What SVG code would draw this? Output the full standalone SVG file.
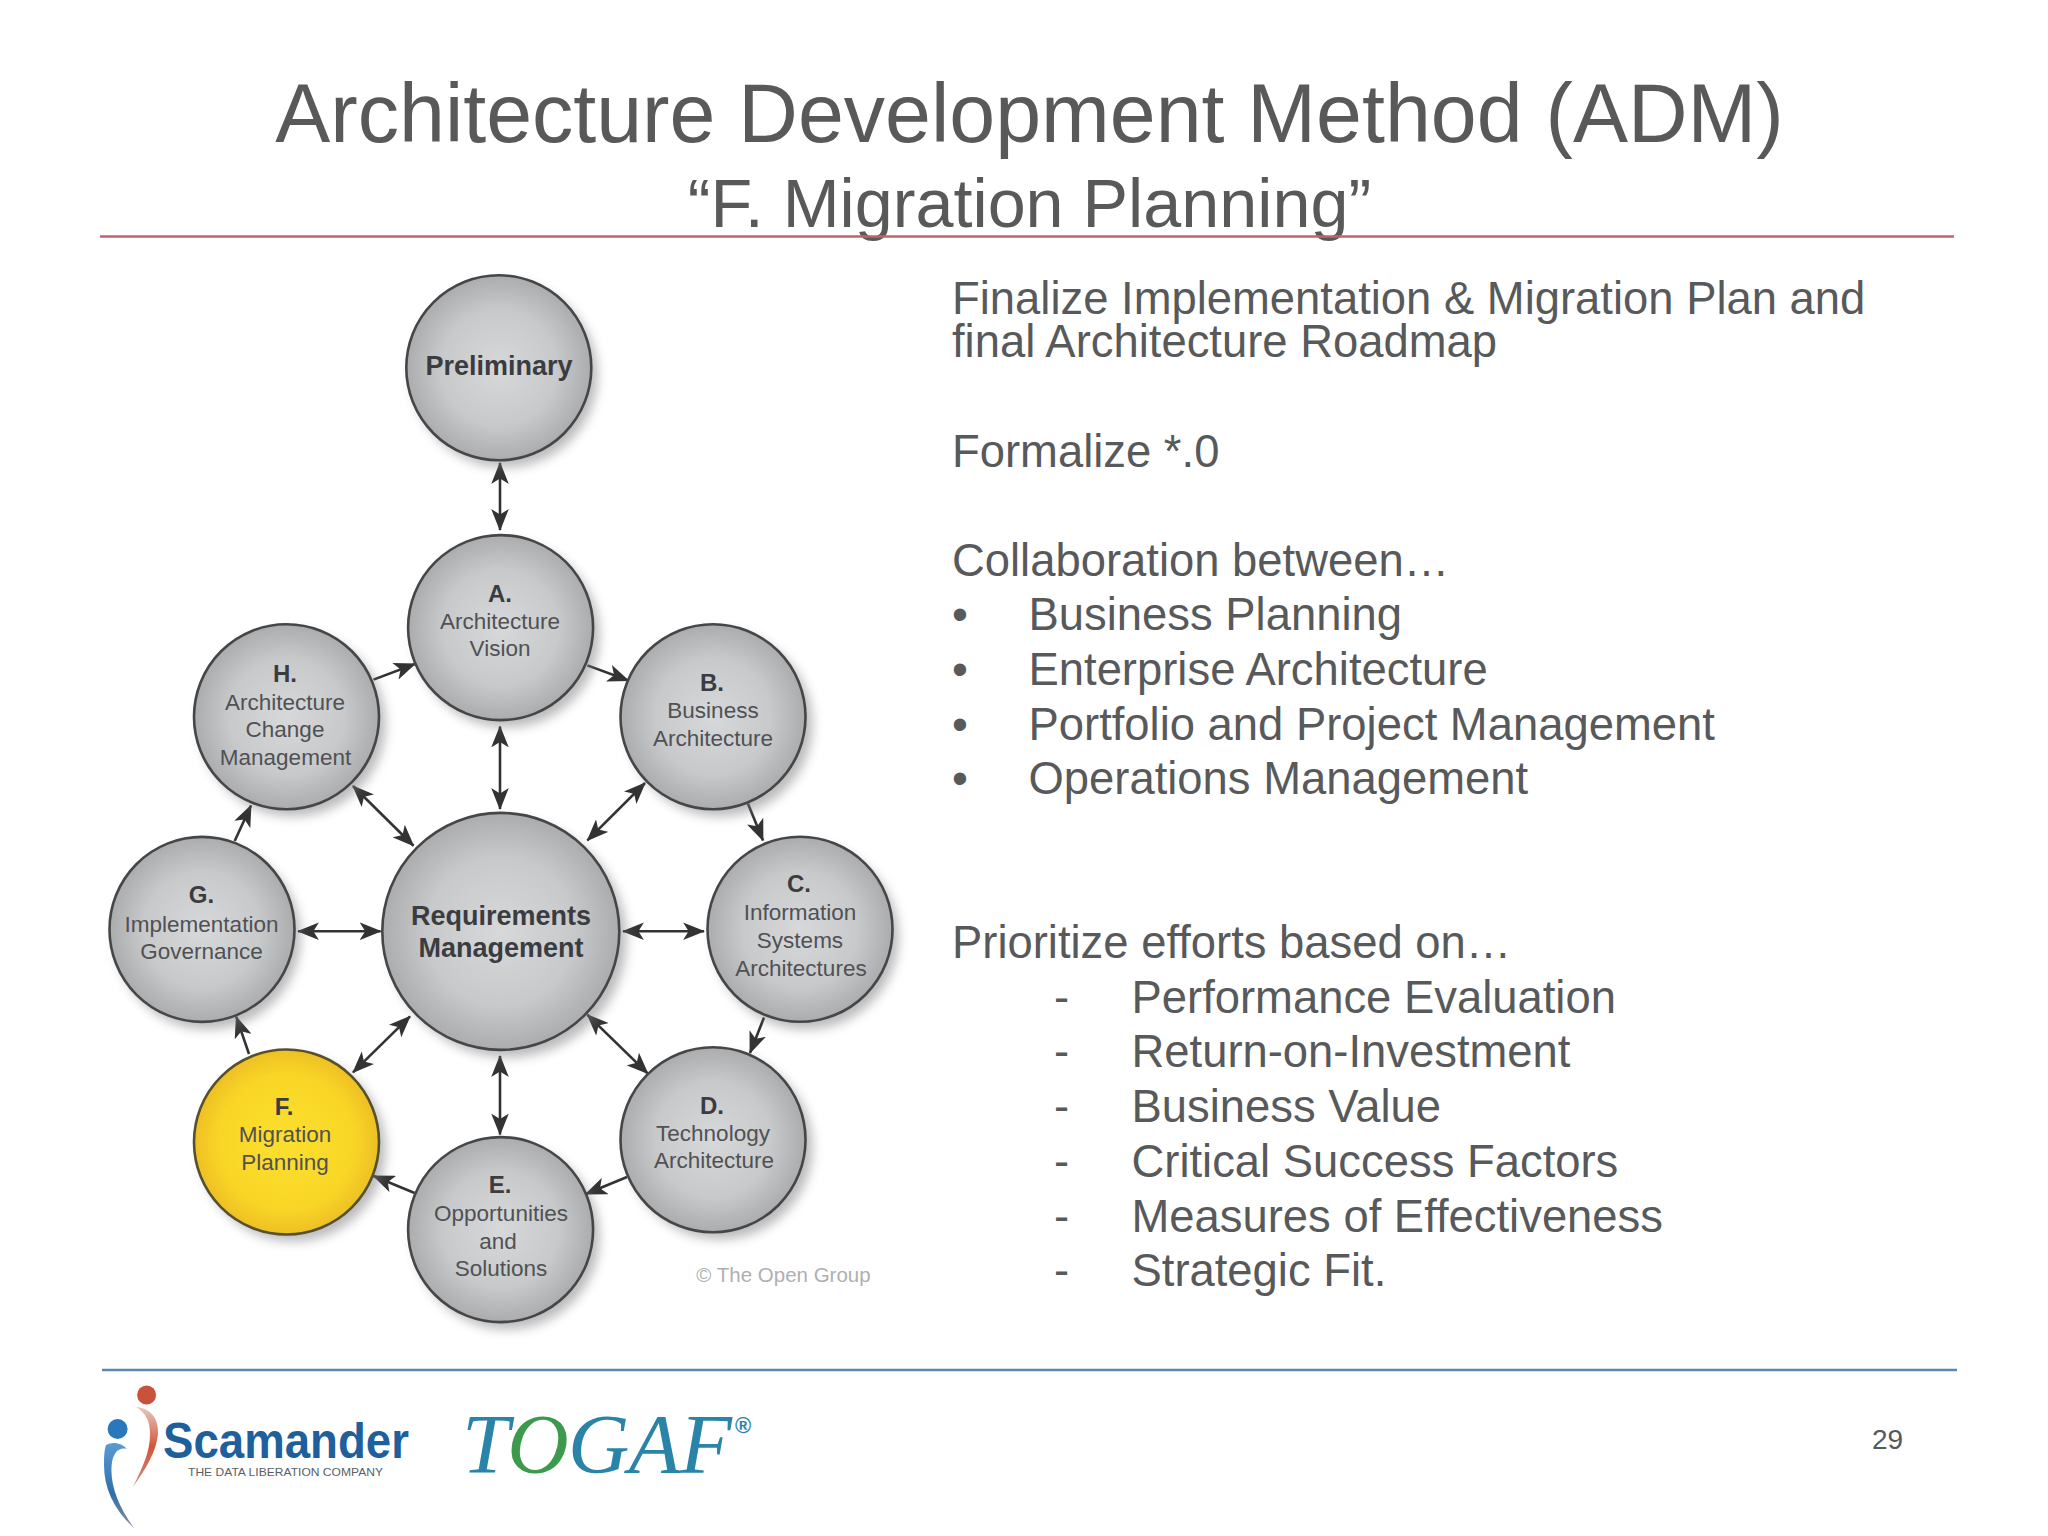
<svg xmlns="http://www.w3.org/2000/svg" width="2048" height="1536" viewBox="0 0 2048 1536">
<style>
text{font-family:"Liberation Sans",Arial,sans-serif}
.title{fill:#595959;text-anchor:middle}
.body{fill:#58595b;font-size:45.4px}
.b{fill:#3a3c3f;font-weight:700;text-anchor:middle}
.h{font-size:24px}
.m{font-size:27px}
.t{fill:#4f5154;font-size:22.5px;text-anchor:middle}
.node{fill:url(#grey);stroke:#464648;stroke-width:2.6}
.sel{fill:url(#gold);stroke:#55502e;stroke-width:2.6}
.shadow{fill:#77777a;opacity:.5;filter:url(#blur)}
.c{fill:none;stroke:#333;stroke-width:2.6;marker-end:url(#ah)}
.d{marker-start:url(#ah)}
</style>
<defs>
<radialGradient id="grey" cx=".5" cy=".5" r=".52"><stop offset="0" stop-color="#d7d8da"/><stop offset=".6" stop-color="#c8c9cb"/><stop offset="1" stop-color="#a8a9ab"/></radialGradient>
<radialGradient id="gold" cx=".5" cy=".5" r=".52"><stop offset="0" stop-color="#fbdf2e"/><stop offset=".7" stop-color="#f9d626"/><stop offset="1" stop-color="#ecbc24"/></radialGradient>
<filter id="blur" x="-20%" y="-20%" width="140%" height="140%"><feGaussianBlur stdDeviation="5.5"/></filter>
<linearGradient id="bsw" x1="0" y1="0" x2="0" y2="1"><stop offset="0" stop-color="#5b9bd5"/><stop offset=".6" stop-color="#2f6ea8"/><stop offset="1" stop-color="#8a8f98"/></linearGradient>
<linearGradient id="rsw" x1="0" y1="0" x2="0" y2="1"><stop offset="0" stop-color="#e9c8bc"/><stop offset=".5" stop-color="#d2563c"/><stop offset="1" stop-color="#c99080"/></linearGradient>
<marker id="ah" markerUnits="userSpaceOnUse" viewBox="0 0 20 16" refX="19" refY="8" markerWidth="22" markerHeight="17.6" orient="auto-start-reverse"><path d="M20 8 0 0 5 8 0 16z" fill="#333"/></marker>
</defs>
<rect width="2048" height="1536" fill="#fff"/>

<g id="header">
<text class="title" x="1029.5" y="141.5" font-size="82.5">Architecture Development Method (ADM)</text>
<text class="title" x="1029.5" y="226.5" font-size="68.3">“F. Migration Planning”</text>
<line x1="100" y1="236.5" x2="1954" y2="236.5" stroke="#c4626a" stroke-width="2.4"/>
</g>

<g id="connectors">
<path class="c d" d="M500 463V530"/>
<path class="c" d="M587.4 665.4 628.5 680.5"/>
<path class="c" d="M373.5 679.6 415 664"/>
<path class="c d" d="M500 726.5V809"/>
<path class="c" d="M748 803.8 763 840.4"/>
<path class="c d" d="M353 786 413.5 845.7"/>
<path class="c d" d="M645 783 587.4 840.4"/>
<path class="c" d="M234.7 841 251 805.5"/>
<path class="c d" d="M298 931.2H380.6"/>
<path class="c d" d="M623 931.2H704"/>
<path class="c" d="M764 1017.6 750 1053"/>
<path class="c" d="M249 1054 236.3 1016.8"/>
<path class="c d" d="M353 1072.4 410 1016.4"/>
<path class="c d" d="M587.4 1014.8 647.8 1073.6"/>
<path class="c d" d="M500 1056V1134.5"/>
<path class="c" d="M627 1177 585.8 1194"/>
<path class="c" d="M414.6 1193 373.5 1176"/>
</g>

<g id="node-preliminary">
<circle class="shadow" cx="505" cy="375" r="92.5"/>
<circle class="node" cx="498.8" cy="367.8" r="92.5"/>
<text class="b m" x="499" y="375">Preliminary</text>
</g>
<g id="node-a">
<circle class="shadow" cx="507" cy="635" r="92.5"/>
<circle class="node" cx="500.6" cy="627.6" r="92.5"/>
<text class="b h" x="500" y="601.5">A.</text>
<text class="t" x="500" y="628.8">Architecture</text>
<text class="t" x="500" y="656.4">Vision</text>
</g>
<g id="node-b">
<circle class="shadow" cx="720" cy="724" r="92.5"/>
<circle class="node" cx="713" cy="716.7" r="92.5"/>
<text class="b h" x="712" y="691">B.</text>
<text class="t" x="713" y="718.4">Business</text>
<text class="t" x="713" y="746">Architecture</text>
</g>
<g id="node-c">
<circle class="shadow" cx="806" cy="937" r="92.5"/>
<circle class="node" cx="800" cy="929.3" r="92.5"/>
<text class="b h" x="799" y="891.7">C.</text>
<text class="t" x="800" y="920">Information</text>
<text class="t" x="800" y="948">Systems</text>
<text class="t" x="801" y="976">Architectures</text>
</g>
<g id="node-d">
<circle class="shadow" cx="720" cy="1147" r="92.5"/>
<circle class="node" cx="713" cy="1139.8" r="92.5"/>
<text class="b h" x="712" y="1113.8">D.</text>
<text class="t" x="713" y="1141">Technology</text>
<text class="t" x="714" y="1168.2">Architecture</text>
</g>
<g id="node-e">
<circle class="shadow" cx="507" cy="1237" r="92.5"/>
<circle class="node" cx="500.6" cy="1229.6" r="92.5"/>
<text class="b h" x="500" y="1193">E.</text>
<text class="t" x="501" y="1221">Opportunities</text>
<text class="t" x="498" y="1248.5">and</text>
<text class="t" x="501" y="1276">Solutions</text>
</g>
<g id="node-f">
<circle class="shadow" cx="293" cy="1149" r="92.5"/>
<circle class="sel" cx="286.5" cy="1142" r="92.5"/>
<text class="b h" x="284" y="1115">F.</text>
<text class="t" x="285" y="1142">Migration</text>
<text class="t" x="285" y="1170">Planning</text>
</g>
<g id="node-g">
<circle class="shadow" cx="208" cy="937" r="92.5"/>
<circle class="node" cx="202" cy="929.4" r="92.5"/>
<text class="b h" x="201.5" y="903">G.</text>
<text class="t" x="201.5" y="932">Implementation</text>
<text class="t" x="201.5" y="959">Governance</text>
</g>
<g id="node-h">
<circle class="shadow" cx="293" cy="724" r="92.5"/>
<circle class="node" cx="286.5" cy="716.7" r="92.5"/>
<text class="b h" x="285" y="682">H.</text>
<text class="t" x="285" y="709.5">Architecture</text>
<text class="t" x="285" y="737">Change</text>
<text class="t" x="285.5" y="764.5">Management</text>
</g>
<g id="node-requirements">
<circle class="shadow" cx="508" cy="939" r="118.5"/>
<circle class="node" cx="500.8" cy="931.4" r="118.5"/>
<text class="b m" x="501" y="925">Requirements</text>
<text class="b m" x="501" y="956.8">Management</text>
</g>
<text x="783.5" y="1282" font-size="20.5" fill="#aeafb1" text-anchor="middle">© The Open Group</text>

<g id="body-text" class="body">
<text class="body" x="952" y="314">Finalize Implementation &amp; Migration Plan and</text>
<text class="body" x="952" y="357.4">final Architecture Roadmap</text>
<text class="body" x="952" y="466.7">Formalize *.0</text>
<text class="body" x="952" y="576">Collaboration between…</text>
<text class="body" x="952" y="630.3">•</text><text class="body" x="1028.5" y="630.3">Business Planning</text>
<text class="body" x="952" y="685">•</text><text class="body" x="1028.5" y="685">Enterprise Architecture</text>
<text class="body" x="952" y="739.6">•</text><text class="body" x="1028.5" y="739.6">Portfolio and Project Management</text>
<text class="body" x="952" y="794.2">•</text><text class="body" x="1028.5" y="794.2">Operations Management</text>
<text class="body" x="952" y="958">Prioritize efforts based on…</text>
<text class="body" x="1054" y="1012.8">-</text><text class="body" x="1131.5" y="1012.8">Performance Evaluation</text>
<text class="body" x="1054" y="1067.4">-</text><text class="body" x="1131.5" y="1067.4">Return-on-Investment</text>
<text class="body" x="1054" y="1122.4">-</text><text class="body" x="1131.5" y="1122.4">Business Value</text>
<text class="body" x="1054" y="1176.7">-</text><text class="body" x="1131.5" y="1176.7">Critical Success Factors</text>
<text class="body" x="1054" y="1231.7">-</text><text class="body" x="1131.5" y="1231.7">Measures of Effectiveness</text>
<text class="body" x="1054" y="1286">-</text><text class="body" x="1131.5" y="1286">Strategic Fit.</text>
</g>

<g id="footer">
<line x1="102" y1="1370" x2="1957" y2="1370" stroke="#5f86b3" stroke-width="2.4"/>
<text x="1872" y="1449" font-size="28" fill="#58595b">29</text>
</g>

<g id="logo-scamander">
<circle cx="146.6" cy="1395" r="9.5" fill="#c9533a"/>
<path d="M136 1407C150 1408 159 1418 158 1434 156 1453 146 1468 133 1487 143 1466 150 1452 150 1434 150 1421 146 1413 136 1407Z" fill="url(#rsw)"/>
<circle cx="117.6" cy="1429" r="10" fill="#2a78bb"/>
<path d="M106 1445C113 1441 122 1443 127 1449 119 1447 114 1452 112 1462 109 1483 118 1506 134 1528 114 1510 104 1488 104 1465 104 1457 104 1451 106 1445Z" fill="url(#bsw)"/>
<text x="163" y="1458" font-size="50" font-weight="700" fill="#1f5f9c" textLength="246" lengthAdjust="spacingAndGlyphs">Scamander</text>
<text x="188" y="1476" font-size="11.5" fill="#5a5f66" textLength="195" lengthAdjust="spacingAndGlyphs">THE DATA LIBERATION COMPANY</text>
</g>
<g id="logo-togaf">
<text x="462" y="1472.5" font-size="85" font-style="italic" style="font-family:'Liberation Serif',serif" fill="#2a84a8" textLength="270" lengthAdjust="spacing">T<tspan fill="#3d9a4c">O</tspan>GAF</text>
<text x="735" y="1433" font-size="22" font-weight="700" fill="#2a84a8">®</text>
</g>
</svg>
